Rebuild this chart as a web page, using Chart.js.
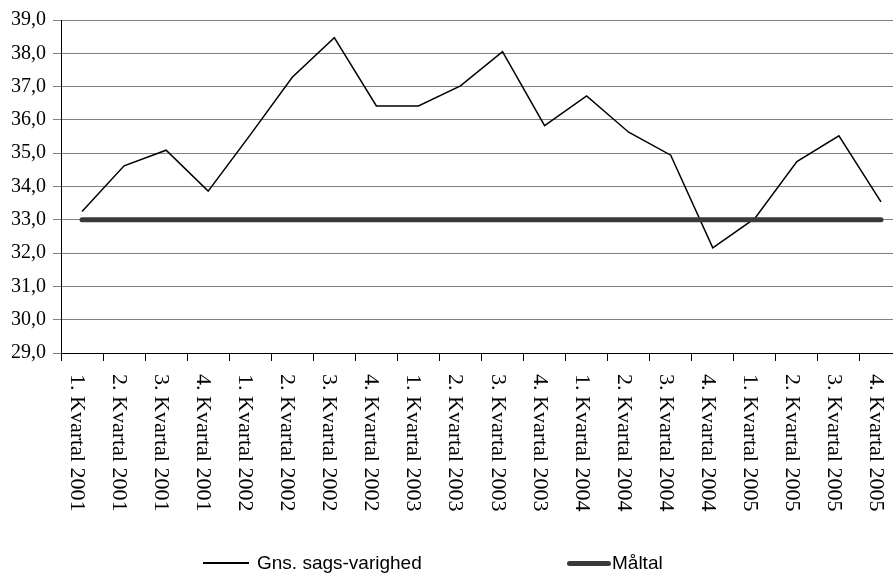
<!DOCTYPE html>
<html>
<head>
<meta charset="utf-8">
<script src="https://cdn.jsdelivr.net/npm/chart.js@4"></script>
<style>
  html, body { margin: 0; padding: 0; background: #fff; overflow: hidden; }
  #wrap { position: relative; width: 893px; height: 574px; overflow: hidden; }
  #c { position: absolute; left: 0; top: 0; }
  .lg { position: absolute; font-family: "Liberation Sans", Arial, sans-serif; font-size: 19px; color: #000; line-height: 20px; white-space: nowrap; }
  .ln { position: absolute; }
</style>
</head>
<body>
<div id="wrap">
  <canvas id="c" width="902" height="574" style="width:902px;height:574px"></canvas>
  <div class="ln" style="left:203px;top:562px;width:46px;height:1.5px;background:#000"></div>
  <div class="lg" style="left:257px;top:553px">Gns. sags-varighed</div>
  <div class="ln" style="left:567px;top:561px;width:44px;height:5px;border-radius:3px;background:#3a3a3a"></div>
  <div class="lg" style="left:612px;top:553px">Måltal</div>
</div>
<script>
const categories = [
  "1. Kvartal 2001", "2. Kvartal 2001", "3. Kvartal 2001", "4. Kvartal 2001",
  "1. Kvartal 2002", "2. Kvartal 2002", "3. Kvartal 2002", "4. Kvartal 2002",
  "1. Kvartal 2003", "2. Kvartal 2003", "3. Kvartal 2003", "4. Kvartal 2003",
  "1. Kvartal 2004", "2. Kvartal 2004", "3. Kvartal 2004", "4. Kvartal 2004",
  "1. Kvartal 2005", "2. Kvartal 2005", "3. Kvartal 2005", "4. Kvartal 2005"
];
const sagsVarighed = [33.25, 34.62, 35.09, 33.86, 35.55, 37.28, 38.47, 36.42, 36.42, 37.02,
                      38.05, 35.83, 36.72, 35.63, 34.94, 32.16, 33.04, 34.75, 35.52, 33.54];
const maltal = [33, 33, 33, 33, 33, 33, 33, 33, 33, 33, 33, 33, 33, 33, 33, 33, 33, 33, 33, 33];
const seriesNames = ["Gns. sags-varighed", "Måltal"];
const yMin = 29, yMax = 39, yStep = 1;

const xLabelPlugin = {
  id: 'xLabels',
  afterDraw(chart) {
    const xs = chart.scales.x;
    const ctx = chart.ctx;
    ctx.save();
    ctx.font = '22px "Liberation Serif", "Times New Roman", serif';
    ctx.fillStyle = '#000';
    ctx.textAlign = 'left';
    ctx.textBaseline = 'alphabetic';
    categories.forEach((lab, i) => {
      const x = xs.getPixelForValue(i);
      ctx.save();
      ctx.translate(x - 11, xs.top + 21);
      ctx.rotate(Math.PI / 2);
      ctx.fillText(lab, 0, 0);
      ctx.restore();
    });
    ctx.restore();
  }
};

new Chart(document.getElementById('c'), {
  type: 'line',
  data: {
    labels: categories,
    datasets: [
      {
        label: seriesNames[0],
        data: sagsVarighed,
        borderColor: '#000',
        borderWidth: 1.5,
        pointRadius: 0,
        tension: 0,
        fill: false,
        order: 1
      },
      {
        label: seriesNames[1],
        data: maltal,
        borderColor: '#3a3a3a',
        borderWidth: 5,
        borderCapStyle: 'round',
        pointRadius: 0,
        tension: 0,
        fill: false,
        order: 0
      }
    ]
  },
  options: {
    responsive: false,
    animation: false,
    devicePixelRatio: 1,
    layout: { padding: { top: 20, left: 0, right: 0, bottom: 0 } },
    plugins: {
      legend: { display: false },
      tooltip: { enabled: false }
    },
    scales: {
      x: {
        type: 'category',
        offset: true,
        grid: {
          offset: true,
          drawOnChartArea: false,
          drawTicks: true,
          tickLength: 8,
          tickColor: '#000'
        },
        border: { color: '#000', width: 1 },
        ticks: { display: false },
        afterFit(scale) { scale.height = 574 - 353; }
      },
      y: {
        min: yMin,
        max: yMax,
        ticks: {
          stepSize: yStep,
          color: '#000',
          padding: 7,
          font: { family: '"Liberation Serif", "Times New Roman", serif', size: 20 },
          callback: (v) => v.toFixed(1).replace('.', ',')
        },
        grid: {
          color: '#808080',
          lineWidth: 1,
          tickLength: 8,
          tickColor: '#808080'
        },
        border: { color: '#000', width: 1 },
        afterFit(scale) { scale.width = 61; }
      }
    }
  },
  plugins: [xLabelPlugin]
});
</script>
</body>
</html>
